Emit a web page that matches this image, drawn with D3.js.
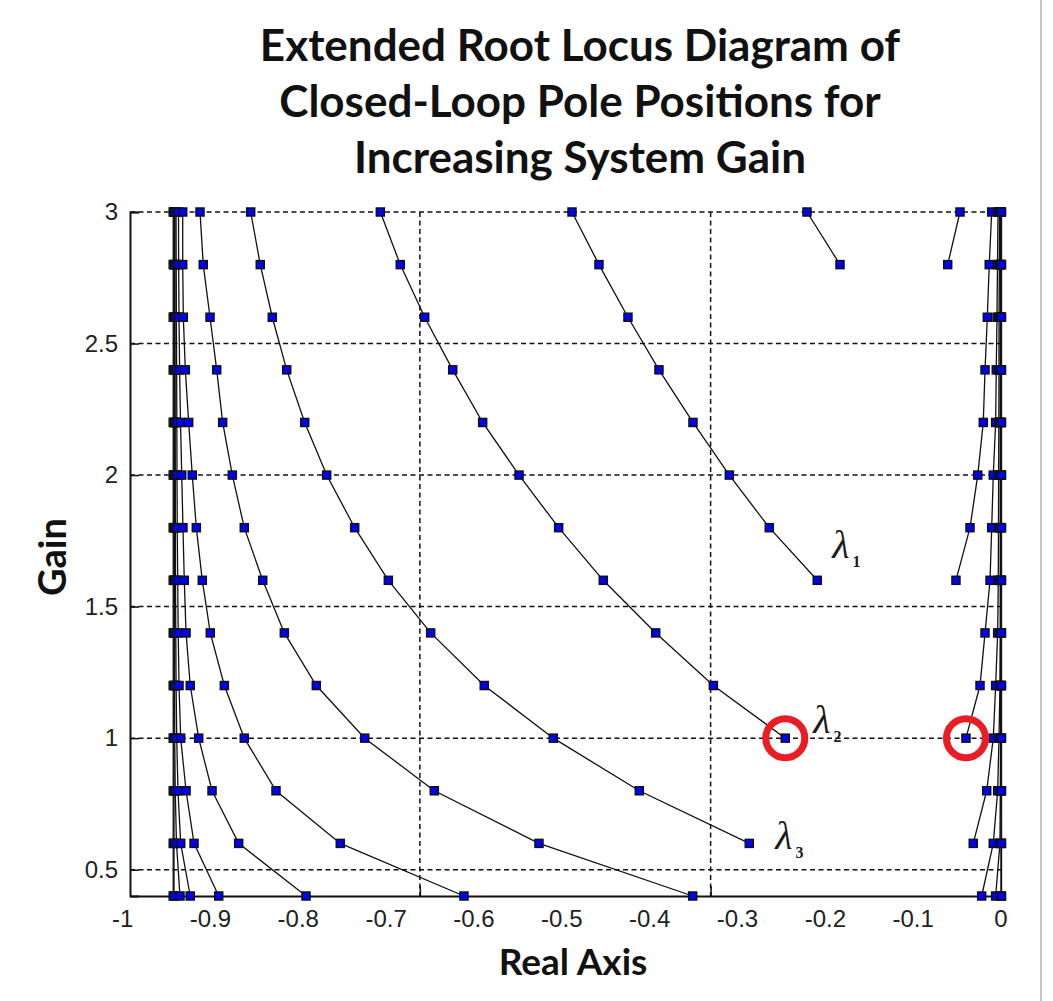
<!DOCTYPE html>
<html>
<head>
<meta charset="utf-8">
<script src="https://cdn.jsdelivr.net/npm/d3@7"></script>
<style>
  html, body { margin: 0; padding: 0; background: #fff; }
  svg { display: block; }
</style>
</head>
<body>
<svg id="chart" width="1053" height="1001"></svg>
<script>
// Gain levels at which the closed-loop poles were computed (top to bottom)
const gains = [3.0, 2.8, 2.6, 2.4, 2.2, 2.0, 1.8, 1.6, 1.4, 1.2, 1.0, 0.8, 0.6, 0.4];

// Real parts of each pole branch, listed from gain 3.0 downward;
// a branch stops where its pole pair leaves the real axis.
const poleA = [-0.9418, -0.9418, -0.9418, -0.9418, -0.9418, -0.9418, -0.9418, -0.9418, -0.9418, -0.9418, -0.9418, -0.9418, -0.9418, -0.9418];
const poleB = [-0.9409, -0.9409, -0.9409, -0.9409, -0.9409, -0.9409, -0.9409, -0.9409, -0.9409, -0.9409, -0.9409, -0.9409, -0.9409, -0.9409];
const poleC = [-0.9404, -0.9404, -0.9404, -0.9404, -0.9403, -0.9403, -0.9403, -0.9403, -0.9402, -0.9402, -0.9401, -0.9395, -0.9381, -0.9341];
const poleD = [-0.9398, -0.9398, -0.9397, -0.9396, -0.9395, -0.9394, -0.9393, -0.9392, -0.9389, -0.9385, -0.9378, -0.9364, -0.9333, -0.9224];
const poleE = [-0.9386, -0.9384, -0.9382, -0.9379, -0.9377, -0.9375, -0.9372, -0.9367, -0.9361, -0.9352, -0.9333, -0.9272, -0.9181, -0.8900];
const poleF = [-0.9358, -0.9356, -0.9352, -0.9345, -0.9335, -0.9321, -0.9307, -0.9292, -0.9272, -0.9224, -0.9128, -0.8976, -0.8673, -0.7906];
const poleG = [-0.9310, -0.9310, -0.9303, -0.9280, -0.9242, -0.9201, -0.9155, -0.9087, -0.8996, -0.8836, -0.8609, -0.8248, -0.7516, -0.6108];
const poleH = [-0.9113, -0.9076, -0.8999, -0.8923, -0.8855, -0.8745, -0.8609, -0.8399, -0.8153, -0.7789, -0.7238, -0.6446, -0.5254, -0.3504];
const lambda3 = [-0.8536, -0.8427, -0.8290, -0.8126, -0.7921, -0.7671, -0.7352, -0.6969, -0.6487, -0.5877, -0.5091, -0.4112, -0.2860];
const lambda2 = [-0.7060, -0.6833, -0.6555, -0.6236, -0.5895, -0.5481, -0.5030, -0.4522, -0.3925, -0.3269, -0.2450];
const lambda1 = [-0.4878, -0.4571, -0.4241, -0.3888, -0.3501, -0.3087, -0.2632, -0.2086];
const poleI = [-0.2203, -0.1827];
const poleJ = [-0.0461, -0.0601];
const mirror1 = [-0.0100, -0.0128, -0.0150, -0.0176, -0.0196, -0.0259, -0.0347, -0.0507];
const mirror2 = [-0.0028, -0.0034, -0.0040, -0.0048, -0.0055, -0.0082, -0.0100, -0.0119, -0.0176, -0.0233, -0.0393];
const mirror3 = [-0.0011, -0.0013, -0.0017, -0.0017, -0.0019, -0.0021, -0.0023, -0.0025, -0.0032, -0.0055, -0.0082, -0.0157, -0.0310];
const poleK = [-0.0002, -0.0002, -0.0002, -0.0002, -0.0002, -0.0002, -0.0002, -0.0002, -0.0002, -0.0006, -0.0017, -0.0032, -0.0082, -0.0214];
const poleL = [0.0000, 0.0000, 0.0000, 0.0000, 0.0000, 0.0000, 0.0000, 0.0000, 0.0000, 0.0000, 0.0000, -0.0002, -0.0006, -0.0055];
const poleM = [0.0005, 0.0005, 0.0005, 0.0005, 0.0005, 0.0005, 0.0005, 0.0005, 0.0005, 0.0005, 0.0005, 0.0005, 0.0005, 0.0005];
const poleN = [0.0012, 0.0012, 0.0012, 0.0012, 0.0012, 0.0012, 0.0012, 0.0012, 0.0012, 0.0012, 0.0012, 0.0012, 0.0012, 0.0012];

// Axis ticks and labels
const xTickValues = [-1, -0.9, -0.8, -0.7, -0.6, -0.5, -0.4, -0.3, -0.2, -0.1, 0];
const xTickLabels = ["-1", "-0.9", "-0.8", "-0.7", "-0.6", "-0.5", "-0.4", "-0.3", "-0.2", "-0.1", "0"];
const yTickValues = [0.5, 1, 1.5, 2, 2.5, 3];
const yTickLabels = ["0.5", "1", "1.5", "2", "2.5", "3"];
const xGridValues = [-0.661, -0.330];

const titleLines = ["Extended Root Locus Diagram of", "Closed-Loop Pole Positions for", "Increasing System Gain"];
const xTitle = "Real Axis";
const yTitle = "Gain";

// Named branches with their labels
const branchLabels = [
  { values: lambda1, sub: "1" },
  { values: lambda2, sub: "2" },
  { values: lambda3, sub: "3" }
];
// Poles marked with a red ring (gain = 1 on the λ2 branch and its partner)
const ringed = [lambda2, mirror2];

const branches = [poleA, poleB, poleC, poleD, poleE, poleF, poleG, poleH,
                  lambda3, lambda2, lambda1, poleI,
                  poleJ, mirror1, mirror2, mirror3, poleK, poleL, poleM, poleN];

// ---------- drawing ----------
const svg = d3.select("#chart");
const W = 1053, H = 1001;
const plot = { left: 130, right: 1004, top: 212, bottom: 896 };

svg.append("rect").attr("width", W).attr("height", H).attr("fill", "#fff");
// window edge on the right
svg.append("line").attr("x1", 1041).attr("x2", 1041).attr("y1", 0).attr("y2", H)
  .attr("stroke", "#c8c8c8").attr("stroke-width", 2);

const x = d3.scaleLinear().domain([-0.991, 0.004]).range([plot.left, plot.right]);
const y = d3.scaleLinear().domain([0.4, 3]).range([plot.bottom, plot.top]);

const dash = "5,3.5";

// horizontal grid
svg.append("g").selectAll("line").data(yTickValues).join("line")
  .attr("x1", plot.left).attr("x2", plot.right)
  .attr("y1", d => y(d)).attr("y2", d => y(d))
  .attr("stroke", "#111").attr("stroke-width", 1.5).attr("stroke-dasharray", dash);

// vertical grid
svg.append("g").selectAll("line").data(xGridValues).join("line")
  .attr("x1", d => x(d)).attr("x2", d => x(d))
  .attr("y1", plot.top).attr("y2", plot.bottom)
  .attr("stroke", "#111").attr("stroke-width", 1.5).attr("stroke-dasharray", dash);

// y axis
const yAxis = d3.axisLeft(y).tickValues(yTickValues)
  .tickFormat((d, i) => yTickLabels[i]).tickSize(-9).tickPadding(12);
const gy = svg.append("g").attr("transform", `translate(${plot.left},0)`).call(yAxis);
gy.select(".domain").attr("stroke", "#111").attr("stroke-width", 2);
gy.selectAll(".tick line").attr("stroke", "#111").attr("stroke-width", 1.5);
gy.selectAll("text").attr("font-family", "Liberation Sans, Arial, sans-serif")
  .attr("font-size", 24).attr("fill", "#222");

// x axis: labels
const xAxis = d3.axisBottom(x).tickValues(xTickValues)
  .tickFormat((d, i) => xTickLabels[i]).tickSize(0).tickPadding(14);
const gx = svg.append("g").attr("transform", `translate(0,${plot.bottom})`).call(xAxis);
gx.select(".domain").remove();
gx.selectAll("text").attr("font-family", "Liberation Sans, Arial, sans-serif")
  .attr("font-size", 24).attr("fill", "#222");

// x axis: baseline and tick marks
const xTicks = d3.axisBottom(x).tickValues(xGridValues).tickFormat("").tickSize(-10).tickSizeOuter(0);
const gx2 = svg.append("g").attr("transform", `translate(0,${plot.bottom})`).call(xTicks);
gx2.select(".domain").attr("stroke", "#111").attr("stroke-width", 2);
gx2.selectAll(".tick line").attr("stroke", "#111").attr("stroke-width", 1.5);

// branches: line then square markers
const line = d3.line().x(d => x(d.re)).y(d => y(d.g));
const toPoints = vals => vals.map((v, i) => ({ re: v, g: gains[i] }));
const ms = 8;

branches.forEach(vals => {
  const pts = toPoints(vals);
  const g = svg.append("g");
  g.append("path").datum(pts).attr("d", line)
    .attr("fill", "none").attr("stroke", "#111").attr("stroke-width", 1.3);
  g.selectAll("rect").data(pts).join("rect")
    .attr("x", d => x(d.re) - ms / 2).attr("y", d => y(d.g) - ms / 2)
    .attr("width", ms).attr("height", ms)
    .attr("fill", "#0000ff").attr("stroke", "#111").attr("stroke-width", 1.5);
});

// red rings around the gain = 1 poles
svg.append("g").selectAll("circle").data(ringed.map(v => toPoints(v)[v.length - 1])).join("circle")
  .attr("cx", d => x(d.re)).attr("cy", d => y(d.g)).attr("r", 19.5)
  .attr("fill", "none").attr("stroke", "#ea1c24").attr("stroke-width", 7);

// λ labels next to the end of each named branch
const labelOffsets = [[15, -22], [28, -5], [26, 6]];
branchLabels.forEach((b, i) => {
  const end = toPoints(b.values)[b.values.length - 1];
  const t = svg.append("text")
    .attr("x", x(end.re) + labelOffsets[i][0]).attr("y", y(end.g) + labelOffsets[i][1])
    .attr("font-family", "Liberation Serif, DejaVu Serif, serif")
    .attr("font-style", "italic").attr("font-size", 40).attr("fill", "#1b1b1b");
  t.append("tspan").text("λ");
  t.append("tspan").attr("font-size", 16).attr("dx", 3).attr("dy", 9).attr("font-style", "normal")
    .attr("font-weight", "bold").text(b.sub);
});

// title
svg.append("g").selectAll("text").data(titleLines).join("text")
  .attr("x", 580).attr("y", (d, i) => 61 + i * 56)
  .attr("text-anchor", "middle")
  .attr("font-family", "Lato, 'Open Sans', sans-serif").attr("font-weight", 700)
  .attr("font-size", 44).attr("fill", "#111")
  .text(d => d);

// axis titles
svg.append("text").attr("x", 573).attr("y", 975).attr("text-anchor", "middle")
  .attr("font-family", "Lato, 'Open Sans', sans-serif").attr("font-weight", 700)
  .attr("font-size", 37).attr("fill", "#111").text(xTitle);

svg.append("text").attr("transform", "translate(66,557) rotate(-90)").attr("text-anchor", "middle")
  .attr("font-family", "Lato, 'Open Sans', sans-serif").attr("font-weight", 700)
  .attr("font-size", 38).attr("fill", "#111").text(yTitle);
</script>
</body>
</html>
